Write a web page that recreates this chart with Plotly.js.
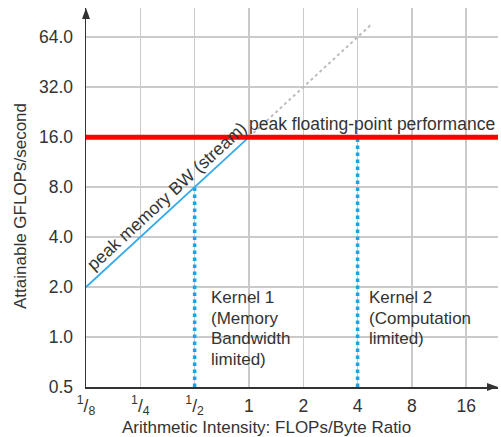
<!DOCTYPE html>
<html>
<head>
<meta charset="utf-8">
<script src="https://cdn.plot.ly/plotly-3.0.1.min.js"></script>
<style>html,body{margin:0;padding:0;background:#fff;}#chart{width:501px;height:437px;}</style>
</head>
<body>
<div id="chart"></div>
<script>
// ---- data ----
const xTickVals = [0.125, 0.25, 0.5, 1, 2, 4, 8, 16];
const xTickText = ['<sup>1</sup>/<sub>8</sub>', '<sup>1</sup>/<sub>4</sub>', '<sup>1</sup>/<sub>2</sub>', '1', '2', '4', '8', '16'];
const yTickVals = [0.5, 1, 2, 4, 8, 16, 32, 64];
const yTickText = ['0.5', '1.0', '2.0', '4.0', '8.0', '16.0', '32.0', '64.0'];

const peakFlopsX = [0.125, 30];
const peakFlopsY = [16, 16];
const memBwX = [0.125, 1];
const memBwY = [2, 16];
const memExtX = [1, 4.8];
const memExtY = [16, 77];
const kernel1X = [0.5, 0.5];
const kernel1Y = [0.5, 8];
const kernel2X = [4, 4];
const kernel2Y = [0.5, 16];

const kernel1Lines = ['Kernel 1', '(Memory', 'Bandwidth', 'limited)'];
const kernel2Lines = ['Kernel 2', '(Computation', 'limited)'];
const kernel1Pos = [0.6, 2];
const kernel2Pos = [4.5, 2];

const xTitle = 'Arithmetic Intensity: FLOPs/Byte Ratio';
const yTitle = 'Attainable GFLOPs/second';

const FONT = 'Liberation Sans, Arial, Helvetica, sans-serif';
const TXT = '#333333';

const traces = [
  {x: memExtX, y: memExtY, mode: 'lines', line: {color: '#bdbdbd', width: 2, dash: 'dot'}, hoverinfo: 'skip'},
  {x: kernel1X, y: kernel1Y, mode: 'lines', line: {color: '#19a3e6', width: 3.5, dash: 'dot'}, hoverinfo: 'skip'},
  {x: kernel2X, y: kernel2Y, mode: 'lines', line: {color: '#19a3e6', width: 3.5, dash: 'dot'}, hoverinfo: 'skip'},
  {x: memBwX, y: memBwY, mode: 'lines', line: {color: '#33aaee', width: 1.8}, hoverinfo: 'skip'},
  {x: peakFlopsX, y: peakFlopsY, mode: 'lines', line: {color: '#ff0000', width: 5}, hoverinfo: 'skip'}
];

const annotations = [
  {x: Math.log10(1), y: Math.log10(16), xref: 'x', yref: 'y', text: 'peak floating-point performance',
   showarrow: false, xanchor: 'left', yanchor: 'bottom', yshift: 1, xshift: -2,
   font: {family: FONT, size: 17.5, color: TXT}},
  {x: Math.log10(0.35), y: Math.log10(5.6), xref: 'x', yref: 'y', text: 'peak memory BW (stream)',
   showarrow: false, textangle: -42.6, yshift: 17, xshift: 0,
   font: {family: FONT, size: 17.5, color: TXT}},
  {x: 266, y: 427, xref: 'paper', yref: 'paper', text: xTitle, showarrow: false,
   xanchor: 'center', yanchor: 'middle',
   font: {family: FONT, size: 17, color: TXT}},
  {x: 20, y: 206, xref: 'paper', yref: 'paper', text: yTitle, showarrow: false, textangle: -90,
   xanchor: 'center', yanchor: 'middle',
   font: {family: FONT, size: 17, color: TXT}}
];
// convert the two pixel-placed title annotations to paper coordinates
const plotL = 86, plotR = 498, plotT = 8, plotB = 387;
[annotations[2], annotations[3]].forEach(a => {
  a.x = (a.x - plotL) / (plotR - plotL);
  a.y = (plotB - a.y) / (plotB - plotT);
});
kernel1Lines.forEach((t, i) => annotations.push({
  x: Math.log10(kernel1Pos[0]), y: Math.log10(kernel1Pos[1]), xref: 'x', yref: 'y', text: t,
  showarrow: false, xanchor: 'left', yanchor: 'top', yshift: 1 - i * 20.5,
  font: {family: FONT, size: 17, color: TXT}}));
kernel2Lines.forEach((t, i) => annotations.push({
  x: Math.log10(kernel2Pos[0]), y: Math.log10(kernel2Pos[1]), xref: 'x', yref: 'y', text: t,
  showarrow: false, xanchor: 'left', yanchor: 'top', yshift: 1 - i * 20.5,
  font: {family: FONT, size: 17, color: TXT}}));

const shapes = [
  {type: 'path', xref: 'paper', yref: 'paper', xsizemode: 'pixel', ysizemode: 'pixel',
   xanchor: 1, yanchor: 0, path: 'M0,0 L-11,4 L-11,-4 Z',
   fillcolor: '#333333', line: {width: 0}},
  {type: 'path', xref: 'paper', yref: 'paper', xsizemode: 'pixel', ysizemode: 'pixel',
   xanchor: 0, yanchor: 1, path: 'M0,0 L-4,-11 L4,-11 Z',
   fillcolor: '#333333', line: {width: 0}}
];

const layout = {
  width: 501, height: 437,
  margin: {l: plotL, r: 501 - plotR, t: plotT, b: 437 - plotB},
  paper_bgcolor: '#ffffff', plot_bgcolor: '#ffffff',
  showlegend: false,
  font: {family: FONT, size: 17, color: TXT},
  xaxis: {
    type: 'log', range: [Math.log10(0.125), Math.log10(24)],
    tickvals: xTickVals, ticktext: xTickText,
    showgrid: true, gridcolor: '#cacacd', gridwidth: 1.5,
    showline: true, linecolor: '#333333', linewidth: 1.5, zeroline: false,
    ticks: '', ticklabelstandoff: 2,
    tickfont: {family: FONT, size: 17.5, color: TXT},
    automargin: false, fixedrange: true
  },
  yaxis: {
    type: 'log', range: [Math.log10(0.5), Math.log10(96)],
    tickvals: yTickVals, ticktext: yTickText,
    showgrid: true, gridcolor: '#cacacd', gridwidth: 1.5,
    showline: true, linecolor: '#333333', linewidth: 1.5, zeroline: false,
    ticks: '', ticklabelstandoff: 8,
    tickfont: {family: FONT, size: 17.5, color: TXT},
    automargin: false, fixedrange: true
  },
  annotations: annotations,
  shapes: shapes
};

Plotly.newPlot('chart', traces, layout, {displayModeBar: false, staticPlot: true});
</script>
</body>
</html>
